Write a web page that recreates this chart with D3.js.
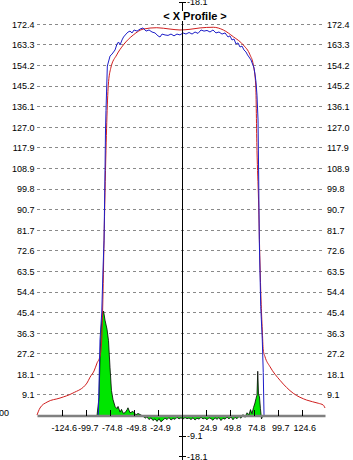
<!DOCTYPE html>
<html>
<head>
<meta charset="utf-8">
<script src="https://cdn.jsdelivr.net/npm/d3@7/dist/d3.min.js"></script>
<style>
    html, body { margin: 0; padding: 0; background: #fff; }
    svg { display: block; font-family: 'Liberation Sans', Arial, sans-serif; }
</style>
</head>
<body>
<svg id="chart" width="353" height="460"></svg>
<script>
var title = '< X Profile >';

// gridline / side tick values
var yTicks = [9.1, 18.1, 27.2, 36.3, 45.4, 54.4, 63.5, 72.6, 81.7, 90.7, 99.8,
    108.9, 117.9, 127.0, 136.1, 145.2, 154.2, 163.3, 172.4];
var xTicks = [124.6, 99.7, 74.8, 49.8, 24.9, -24.9, -49.8, -74.8, -99.7, -124.6];
// ticks on the centre axis: [position, label]
var centerTicks = [[182.2, '-18.1'], [-9.1, '-9.1'], [-18.1, '-18.1']];

// measured profile (blue)
var measured = [[-86.7, 0], [-85.0, 33.3], [-83.2, 45.2], [-81.9, 64.1], [-80.8, 77.3],
    [-79.8, 108.2], [-79.3, 125.8], [-78.8, 134.4], [-77.4, 154.0], [-74.6, 158.4],
    [-72.5, 159.3], [-69.4, 161.1], [-67.4, 163.7], [-65.8, 164.6], [-64.2, 163.3],
    [-62.2, 165.5], [-60.6, 166.8], [-58.0, 168.1], [-55.9, 169.0], [-53.9, 169.4],
    [-51.8, 168.6], [-49.7, 169.9], [-46.6, 169.4], [-43.5, 170.3], [-40.4, 170.8],
    [-37.3, 169.4], [-34.2, 169.9], [-31.1, 169.0], [-28.0, 168.6], [-24.9, 167.3],
    [-22.8, 166.8], [-20.7, 168.1], [-17.6, 167.7], [-14.5, 167.5], [-11.4, 168.1],
    [-8.3, 167.3], [-5.2, 168.1], [-2.1, 167.7], [1.0, 168.6], [4.1, 168.1],
    [7.3, 168.8], [10.4, 168.1], [13.5, 169.0], [16.6, 168.4], [19.7, 169.9],
    [22.8, 169.4], [25.9, 169.7], [29.0, 169.0], [32.1, 169.9], [35.2, 168.6],
    [38.3, 169.0], [41.5, 168.1], [44.6, 168.6], [47.7, 166.8], [49.7, 167.3],
    [51.8, 165.5], [53.9, 165.9], [56.0, 163.7], [58.0, 164.2], [60.1, 162.4],
    [62.2, 162.8], [64.2, 161.1], [66.3, 160.2], [67.9, 158.9], [69.4, 158.0],
    [71.5, 156.7], [73.1, 154.9], [74.6, 153.2], [75.6, 150.5], [76.7, 146.9],
    [77.7, 141.2], [78.8, 130.2], [79.5, 103.8], [80.1, 77.3], [81.6, 48.0],
    [83.2, 33.3], [84.2, 18.9], [85.0, 0.2]];

// fitted profile (red)
var fitted = [[-150.3, 0.2], [-147.2, 3.3], [-139.9, 5.9], [-126.4, 7.7], [-113.0, 9.9],
    [-98.5, 14.3], [-95.3, 16.9], [-91.2, 19.6], [-88.1, 23.1], [-85.0, 26.2],
    [-83.2, 33.3], [-82.2, 47.8], [-80.8, 77.3], [-78.8, 116.9], [-77.2, 139.0],
    [-76.4, 145.6], [-73.9, 153.0], [-67.7, 158.9], [-60.8, 163.3], [-50.5, 167.7],
    [-40.1, 170.3], [-26.2, 170.9], [-12.4, 170.3], [-2.1, 169.9], [8.3, 170.2],
    [18.7, 170.8], [32.4, 171.1], [42.8, 169.9], [53.2, 166.9], [63.5, 163.3],
    [70.5, 158.9], [73.9, 154.5], [76.4, 145.6], [77.7, 116.9], [79.3, 95.0],
    [80.8, 67.2], [81.9, 50.9], [83.2, 37.7], [84.2, 28.9], [86.0, 25.9],
    [91.2, 21.5], [101.6, 15.5], [115.3, 9.8], [129.2, 6.8], [141.2, 5.4],
    [146.4, 4.6], [148.2, 3.3]];

// difference (green)
var difference = [[-88.1, 0], [-86.0, 8], [-85.0, 25], [-83.9, 38], [-82.4, 45],
    [-81.3, 46], [-79.8, 42], [-77.7, 38], [-76.2, 33], [-74.6, 21], [-73.1, 11],
    [-71.5, 7], [-69.4, 4], [-67.4, 3], [-66.3, 4], [-64.2, 1.5], [-62.7, 2.7],
    [-61.1, 1], [-59.1, 1.2], [-57.0, 2.5], [-56.0, 3.4], [-53.9, 1.2], [-50.8, 1.8],
    [-47.7, 0.3], [-45.6, 0.9], [-42.5, 0.2], [-40.4, -0.3], [-38.3, -1.2], [-36.3, -0.6],
    [-34.2, -1.8], [-32.1, -1.0], [-30.1, -2.2], [-28.0, -1.5], [-25.9, -2.6], [-23.8, -1.4],
    [-21.8, -2.8], [-19.7, -2.0], [-17.6, -1.2], [-15.5, -1.8], [-13.5, -0.9], [-11.4, -2.0],
    [-9.3, -1.3], [-7.3, -1.7], [-5.2, -0.8], [-3.1, -1.5], [-1.0, -1.0], [1.0, -1.6],
    [3.1, -0.9], [5.2, -1.4], [7.3, -1.1], [9.3, -1.8], [11.4, -1.0], [13.5, -2.0],
    [15.5, -1.2], [17.6, -1.6], [19.7, -0.8], [21.8, -1.5], [23.8, -1.1], [25.9, -1.9],
    [28.0, -1.0], [30.1, -1.4], [32.1, -2.1], [34.2, -1.0], [36.3, -1.7], [38.3, -0.9],
    [40.4, -2.2], [42.5, -1.2], [44.6, -1.6], [46.6, -0.7], [48.7, -1.5], [50.8, -0.6],
    [52.8, -1.9], [54.9, -0.8], [57.0, -1.4], [59.1, -0.4], [61.1, -1.2], [63.2, 0.4],
    [65.3, -0.8], [67.4, 1.2], [69.4, 0.3], [71.0, 2.6], [72.5, 0.8], [74.1, 3.5],
    [75.6, 5.5], [76.7, 7.5], [77.7, 9.0], [78.5, 19.5], [79.3, 9.5], [80.3, 8.2],
    [81.3, 3.0], [82.4, -1.5], [83.9, 0]];

var svg = d3.select('#chart');
var W = 353;

var x = d3.scaleLinear().domain([-150.3, 148.2]).range([37, 325]);
var y = d3.scaleLinear().domain([0, 172.4]).range([415.5, 24.3]);

function fmt(d) { return d.toFixed(1); }

// dashed grid
svg.append('g').selectAll('line')
    .data(yTicks).enter().append('line')
    .attr('x1', x.range()[0]).attr('x2', x.range()[1])
    .attr('y1', function(d) { return y(d); })
    .attr('y2', function(d) { return y(d); })
    .attr('stroke', '#8a8a8a')
    .attr('stroke-dasharray', '3,3')
    .attr('shape-rendering', 'crispEdges');

var area = d3.area()
    .x(function(d) { return x(d[0]); })
    .y0(y(0))
    .y1(function(d) { return y(d[1]); });

svg.append('path').datum(difference)
    .attr('d', area)
    .attr('fill', '#00e600')
    .attr('stroke', '#000')
    .attr('stroke-width', 0.8);

svg.append('path').datum(fitted)
    .attr('d', d3.line()
        .x(function(d) { return x(d[0]); })
        .y(function(d) { return y(d[1]); })
        .curve(d3.curveMonotoneX))
    .attr('fill', 'none')
    .attr('stroke', '#d01e1e')
    .attr('stroke-width', 1);

svg.append('path').datum(measured)
    .attr('d', d3.line()
        .x(function(d) { return x(d[0]); })
        .y(function(d) { return y(d[1]); }))
    .attr('fill', 'none')
    .attr('stroke', '#1e1ec8')
    .attr('stroke-width', 1);

// left and right value labels
var left = svg.append('g')
    .attr('transform', 'translate(' + x.range()[0] + ',0)')
    .call(d3.axisLeft(y).tickValues([0].concat(yTicks)).tickSize(0).tickPadding(2.5)
        .tickFormat(function(d) { return d === 0 ? '0.00' : fmt(d); }));
left.select('.domain').remove();

var right = svg.append('g')
    .attr('transform', 'translate(' + x.range()[1] + ',0)')
    .call(d3.axisRight(y).tickValues(yTicks).tickSize(0).tickPadding(2)
        .tickFormat(fmt));
right.select('.domain').remove();

// the zero label sits off to the left, slightly raised
left.selectAll('.tick').filter(function(d) { return d === 0; }).select('text')
    .attr('x', 9 - x.range()[0])
    .attr('y', -3);

// bottom axis, ticks pointing up
var bottom = svg.append('g')
    .attr('transform', 'translate(0,' + y(0) + ')')
    .call(d3.axisBottom(x).tickValues(xTicks).tickSizeInner(-6).tickSizeOuter(0)
        .tickPadding(9.5).tickFormat(fmt));
bottom.select('.domain')
    .attr('stroke', '#808080')
    .attr('stroke-width', 2.5);
bottom.selectAll('.tick line').attr('shape-rendering', 'crispEdges');
bottom.selectAll('.tick text')
    .attr('dx', 2)
    .attr('stroke', '#fff').attr('stroke-width', 2)
    .style('paint-order', 'stroke');

svg.selectAll('.tick text')
    .attr('font-size', 9)
    .attr('font-family', "'Liberation Sans', Arial, sans-serif")
    .attr('fill', '#000');
svg.selectAll('g').attr('font-family', null).attr('font-size', null);

// centre axis
var cx = x(0);
var center = svg.append('g');
center.append('line')
    .attr('x1', cx).attr('x2', cx)
    .attr('y1', y(centerTicks[0][0])).attr('y2', 460)
    .attr('stroke', '#000')
    .attr('shape-rendering', 'crispEdges');
var ct = center.selectAll('.ctick')
    .data(centerTicks).enter().append('g')
    .attr('class', 'ctick')
    .attr('transform', function(d) { return 'translate(' + cx + ',' + y(d[0]) + ')'; });
ct.append('line')
    .attr('x1', -3).attr('x2', 4)
    .attr('stroke', '#000')
    .attr('shape-rendering', 'crispEdges');
ct.append('text')
    .attr('x', 5).attr('dy', '0.35em')
    .attr('font-size', 9)
    .text(function(d) { return d[1]; });

// title with white backing over the axis
var tg = svg.append('g');
var tt = tg.append('text')
    .attr('x', (x.range()[0] + W) / 2).attr('y', 20)
    .attr('text-anchor', 'middle')
    .attr('font-size', 11)
    .attr('font-weight', 'bold')
    .text(title);
var bb = tt.node().getBBox();
tg.insert('rect', 'text')
    .attr('x', bb.x - 1).attr('y', bb.y + 1)
    .attr('width', bb.width + 2).attr('height', bb.height - 2)
    .attr('fill', '#fff');
</script>
</body>
</html>
